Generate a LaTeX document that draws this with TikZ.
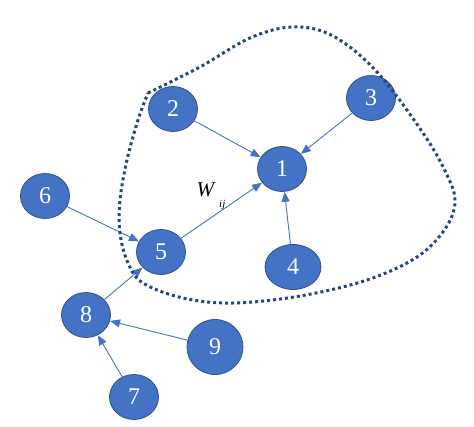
\documentclass[tikz,border=0pt]{standalone}
\usepackage{fontspec}
\setmainfont{Liberation Serif}
\usetikzlibrary{arrows.meta,shapes.geometric}
\definecolor{nodeblue}{RGB}{68,114,196}
\definecolor{rimblue}{RGB}{47,82,143}
\definecolor{loopblue}{RGB}{40,70,130}
\begin{document}
\begin{tikzpicture}[x=1pt,y=-1pt,
	vert/.style={ellipse,draw=rimblue,line width=0.8pt,fill=nodeblue,text=white,inner sep=0pt,
		minimum width=49pt,minimum height=45pt,font=\fontsize{24}{24}\selectfont},
	wedge/.style={nodeblue,line width=0.9pt,-{Triangle[width=8pt,length=10pt]}}]
	\useasboundingbox (0,0) rectangle (474,427);
	
	\node[vert] (n1) at (282,169) {1};
	\node[vert] (n2) at (173,109) {2};
	\node[vert] (n3) at (371,98) {3};
	\node[vert,minimum width=56pt] (n4) at (293,267) {4};
	\node[vert] (n5) at (161,252) {5};
	\node[vert] (n6) at (45,196) {6};
	\node[vert] (n7) at (134,397) {7};
	\node[vert] (n8) at (86,315) {8};
	\node[vert,minimum width=56pt,minimum height=55pt] (n9) at (215,347) {9};
	
	\node[font=\fontsize{21}{21}\selectfont] (wij) at (211,196) {\textit{W}\,\raisebox{-1.1ex}{\fontsize{11}{11}\selectfont\textit{ij}}};
	
	\draw[wedge] (n2) -- (n1);
	\draw[wedge] (n3) -- (n1);
	\draw[wedge] (n5) -- (n1);
	\draw[wedge] (n4) -- (n1);
	\draw[wedge] (n6) -- (n5);
	\draw[wedge] (n8) -- (n5);
	\draw[wedge] (n9) -- (n8);
	\draw[wedge] (n7) -- (n8);
	
	% the group round node 1
	\draw[loopblue,line width=3pt,dash pattern=on 3pt off 3pt] plot[smooth,tension=0.6] coordinates {
		(148,93) (200,67) (250,38) (293,27) (333,36) (377,72) (423,133) (447,175) (455,202)
		(445,229) (417,257) (367,280) (300,296) (233,303) (183,298) (143,283) (128,263)
		(120,233) (120,200) (127,160) (138,120) (148,93)};
	
\end{tikzpicture}
\end{document}
